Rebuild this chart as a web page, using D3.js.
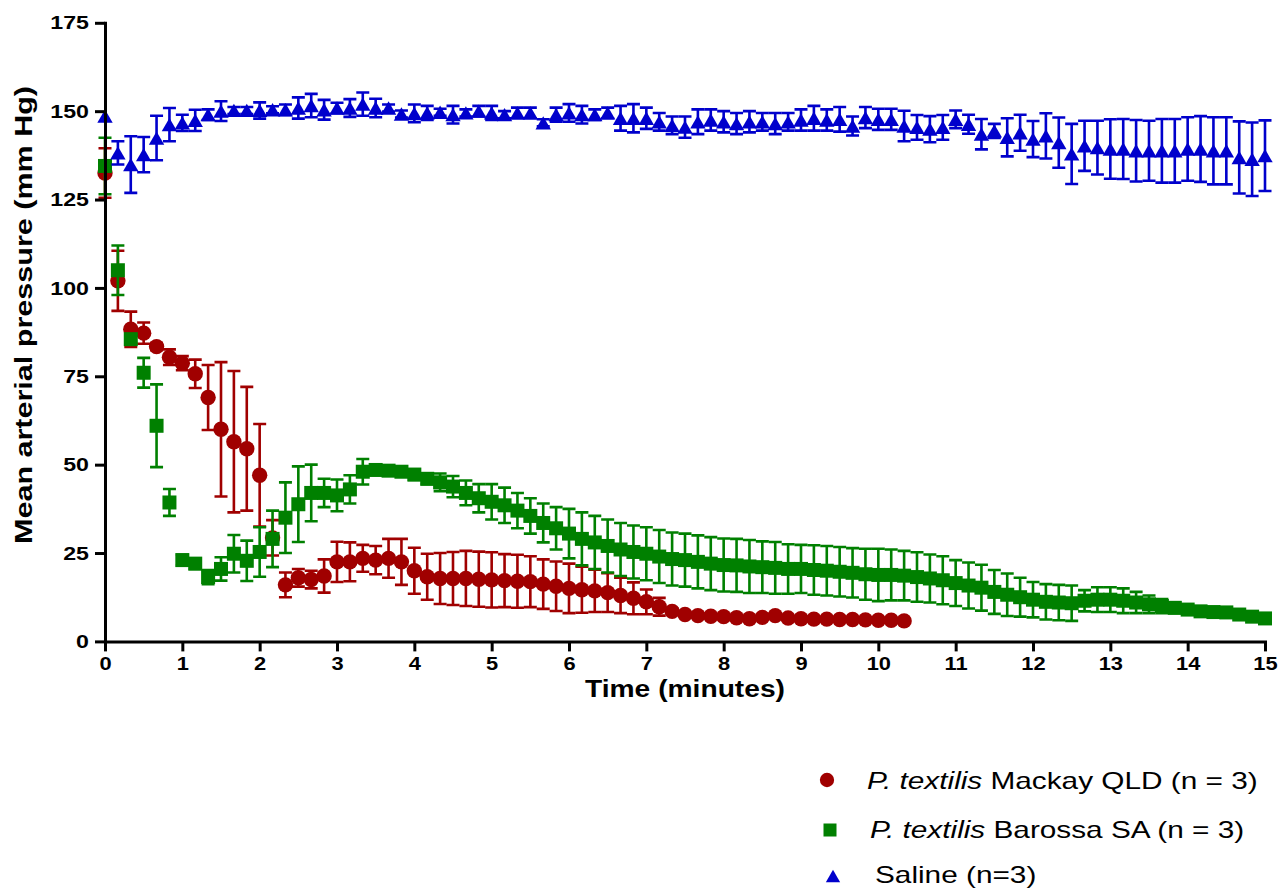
<!DOCTYPE html>
<html><head><meta charset="utf-8">
<script src="https://cdn.jsdelivr.net/npm/d3@7"></script>
<style>
html,body{margin:0;padding:0;background:#fff;}
svg{display:block;font-family:"Liberation Sans",Arial,sans-serif;}
</style></head>
<body>
<svg id="chart" width="1283" height="889"></svg>
<script>
// ---- data (time in seconds, 10 s sampling) ----
const timesSec = [0,10,20,30,40,50,60,70,80,90,100,110,120,130,140,150,160,170,180,190,
200,210,220,230,240,250,260,270,280,290,300,310,320,330,340,350,360,370,380,390,
400,410,420,430,440,450,460,470,480,490,500,510,520,530,540,550,560,570,580,590,
600,610,620,630,640,650,660,670,680,690,700,710,720,730,740,750,760,770,780,790,
800,810,820,830,840,850,860,870,880,890,900];

const mackayMean = [132.5,102,88.3,87.2,83.4,80.4,78.7,75.7,69,60,
56.5,54.5,47,29.3,16,18,17.5,18.5,22.5,22.5,
23.5,23,23.5,22.5,20,18.3,17.8,17.8,17.8,17.6,
17.4,17.2,17,16.9,16.2,15.6,15,14.6,14.3,13.8,
13,12.2,11.2,9.8,8.5,7.6,7.3,7.1,7.0,6.7,
6.4,6.8,7.3,6.6,6.4,6.3,6.3,6.2,6.2,6.1,
6.0,6.0,5.8];
const mackayErr = [7,8.5,5,3,1,2.2,2,4,9.2,19,
20,17.5,14.5,5,3.5,2.5,2.5,4.7,5.7,5.5,
3.8,4,5.5,6.5,6.5,6.5,7.2,7.5,7.8,7.8,
7.8,7.5,7.5,7.2,7,7,7,6.5,6,5.5,
5,4.5,3.5,2.5,0.8,0.5,0.5,0.5,0.5,0.5,
0.5,0.5,0.5,0.5,0.5,0.5,0.5,0.5,0.5,0.5,
0.5,0.5,0.5];

const barossaMean = [134.5,105,85.5,76,61,39.3,23,22,18.2,20.5,
24.8,22.8,25.3,29,35,38.8,42,42,41.3,43,
48,48.5,48.3,48,47.2,46,45,43.8,42,40.5,
39.5,38.5,37,35.5,33.5,32,30.5,29,28,27,
26,25.3,24.8,24,23.3,23,22.5,22,21.6,21.5,
21.2,21,20.8,20.5,20.5,20.2,20,19.7,19.4,19,
18.8,18.8,18.6,18.2,17.8,17.3,16.5,15.8,15.2,14,
13.2,12.5,11.8,11.2,11,10.8,11.5,11.8,11.8,11.5,
11,10.5,10,9.5,9,8.5,8.3,8.2,7.6,7,
6.5];
const barossaErr = [8,7,1,4.2,11.7,3.8,1.5,1.5,2,3.3,
5.3,5.7,7,8,10,10.7,8,4,4.5,4,
3.6,1,1,1,1.5,1.5,2.5,3,3.5,4,
5,5,5,5,5.5,6,7,7.5,7.5,7.5,
7.5,7.5,7.5,7.5,7.5,7.5,7.5,7.5,7.5,7.5,
7.5,7.3,7.3,7,6.8,7,7,7,7,7.2,
7.4,7.2,7,7,6.8,6.8,6.5,6.5,6.5,6.2,
6,5.5,5,5,5,5,3,3.5,3.5,3.5,
3,2.5,2,1.5,1,1,1,0.8,0.8,0.8,
0.8];

const salineMean = [148.6,138.2,134.9,137.7,142.4,146.2,146.7,147.4,149,150,
150.2,150.2,150.2,150.4,150.4,150.9,151.6,150.4,150.9,150.9,
152,150.9,150.9,149.2,149.4,149.5,149.7,149,149.5,150,
149.5,149,149.5,149.5,146.7,149,149.5,149,149,149.5,
148,148,148,147,146,145.5,147,147.5,147,146.5,
147,147,146.5,147,147.5,148,147.5,147.7,145.8,148.2,
147.7,147.7,145.8,145.4,144.9,145.4,147.7,146.3,143.5,144.4,
142.6,143.9,142.1,143,141.1,137.9,140.2,139.7,139.3,139.3,
138.8,138.8,138.8,138.8,139.3,139.3,138.8,138.8,136.9,136.4,
137.4];
const salineErr = [0,3.3,8,5,6.3,4.7,2.3,3,1.5,2.8,
1,1,2.3,1,1.5,3,3.3,2.8,1.5,2.5,
3.3,2.6,1,1,2.5,2,1,2.5,1,1.5,
2,1,1.5,1.5,1,2,2.5,2.5,1.5,1.5,
3.5,4,3,2.5,2.5,3,3.5,3,3,3,
3,2.5,3,2.5,3,3.5,3,3.5,2.7,3,
3,3,4.3,3.5,3.7,3.5,2.5,2.7,4.3,2,
5.4,5.1,5.1,6.4,7.1,8.5,7.1,7.6,8.4,8.5,
8.7,8.5,9,9,9,9.3,9.5,9.5,10.2,10.4,
10];

const xTicks = [0,1,2,3,4,5,6,7,8,9,10,11,12,13,14,15];
const yTicks = [0,25,50,75,100,125,150,175];
const seriesNames = ["Mackay QLD (n = 3)","Barossa SA (n = 3)","Saline (n=3)"];
const seriesColors = ["#A00000","#008000","#0000CC"];
const seriesShapes = ["circle","square","triangle"];

// ---- chart ----
const svg = d3.select("#chart");
const x = d3.scaleLinear().domain([0,15]).range([105,1265]);
const y = d3.scaleLinear().domain([0,175]).range([641.4,22.8]);

function stretch(sel,k){
  sel.each(function(){
    const L=this.getComputedTextLength();
    d3.select(this).attr("textLength",L*k).attr("lengthAdjust","spacingAndGlyphs");
  });
}

function symbol(g,shape,cx,cy,color,s){
  if(shape==="circle"){
    g.append("circle").attr("cx",cx).attr("cy",cy).attr("r",s*0.55).attr("fill",color);
  } else if(shape==="square"){
    g.append("rect").attr("x",cx-s/2).attr("y",cy-s/2).attr("width",s).attr("height",s).attr("fill",color);
  } else {
    const h=s*0.95, w=s*1.1;
    g.append("path").attr("d",`M${cx},${cy-h/2}L${cx+w/2},${cy+h/2}L${cx-w/2},${cy+h/2}Z`).attr("fill",color);
  }
}

const allSeries = [
  {mean:mackayMean, err:mackayErr},
  {mean:barossaMean, err:barossaErr},
  {mean:salineMean, err:salineErr}
];

allSeries.forEach((s,si)=>{
  const g = svg.append("g");
  const color = seriesColors[si];
  const pts = s.mean.map((m,i)=>({t:timesSec[i]/60, m, e:s.err[i]}));
  const bars = g.append("g").attr("stroke",color).attr("stroke-width",2.6).attr("fill","none");
  pts.forEach(p=>{
    if(p.e<=0) return;
    const cx=x(p.t), y1=y(p.m+p.e), y2=y(p.m-p.e), cw=6.5;
    bars.append("path").attr("d",`M${cx},${y1}V${y2}M${cx-cw},${y1}H${cx+cw}M${cx-cw},${y2}H${cx+cw}`);
  });
  const sg = g.append("g");
  pts.forEach(p=>symbol(sg,seriesShapes[si],x(p.t),y(p.m),color,14));
});

// axes
const xAxis = svg.append("g").attr("transform",`translate(0,${y(0)})`)
  .call(d3.axisBottom(x).tickValues(xTicks).tickSize(10).tickSizeOuter(0).tickPadding(5).tickFormat(d3.format("d")));
const yAxis = svg.append("g").attr("transform",`translate(${x(0)},0)`)
  .call(d3.axisLeft(y).tickValues(yTicks).tickSize(10).tickSizeOuter(0).tickPadding(6).tickFormat(d3.format("d")));
[xAxis,yAxis].forEach(a=>{
  a.select(".domain").attr("stroke","#000").attr("stroke-width",3).attr("stroke-linecap","square");
  a.selectAll(".tick line").attr("stroke","#000").attr("stroke-width",3);
  a.selectAll(".tick text").attr("fill","#000").attr("font-family","Liberation Sans, Arial, sans-serif")
    .attr("font-weight","bold").attr("font-size",19);
});
stretch(xAxis.selectAll(".tick text"),1.15);
stretch(yAxis.selectAll(".tick text"),1.22);

// axis titles
const xt = svg.append("text").attr("x",685).attr("y",697).attr("text-anchor","middle")
  .attr("font-weight","bold").attr("font-size",23).text("Time (minutes)");
xt.attr("textLength",200).attr("lengthAdjust","spacingAndGlyphs");
const yt = svg.append("text").attr("transform","translate(32,315) rotate(-90)").attr("text-anchor","middle")
  .attr("font-weight","bold").attr("font-size",24).text("Mean arterial pressure (mm Hg)");
yt.attr("textLength",458).attr("lengthAdjust","spacingAndGlyphs");

// legend
const legY = [789,838,883];
const legSymX = [827,830,833];
const legSymY = [780,830,876];
const legTextX = [867,870,875];
const lg = svg.append("g");
seriesNames.forEach((name,i)=>{
  symbol(lg,seriesShapes[i],legSymX[i],legSymY[i],seriesColors[i],13);
  const t = lg.append("text").attr("x",legTextX[i]).attr("y",legY[i]).attr("font-size",24).attr("fill","#000");
  if(i<2){
    t.append("tspan").attr("font-style","italic").text("P. textilis");
    t.append("tspan").text(" "+name);
  } else {
    t.text(name);
  }
  stretch(t,1.24);
});
</script>
</body></html>
